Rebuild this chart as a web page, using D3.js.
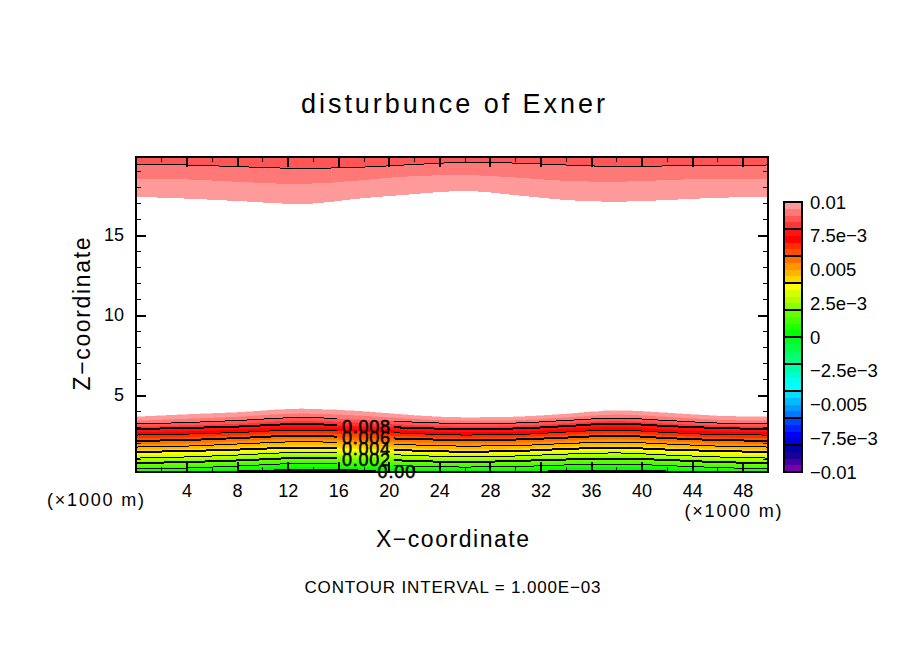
<!DOCTYPE html>
<html>
<head>
<meta charset="utf-8">
<title>disturbance of Exner</title>
<script src="https://cdnjs.cloudflare.com/ajax/libs/d3/7.8.5/d3.min.js"></script>
<style>
  html, body { margin: 0; padding: 0; background: #fff; }
  svg { display: block; }
  text { font-family: "Liberation Sans", sans-serif; fill: #000; }
  .axis text { font-size: 18px; }
  .axis path.domain { display: none; }
  .axis line { stroke: #000; shape-rendering: crispEdges; }
</style>
</head>
<body>
<div id="chart"></div>
<script>
// X positions (km) where the contour heights were read
var xKm = [0, 4, 8, 13, 18, 22, 26, 30, 34, 38, 42, 46, 50];

// contour levels of the lower layer, 0 to 0.01 every 0.0005 (height in km at each xKm)
var level0000 = [.06, .16, .22, .31, .28, .19, .13, .16, .25, .28, .22, .13, .06];
var level0005 = [.22, .30, .39, .52, .47, .38, .32, .35, .44, .49, .41, .30, .22];
var level0010 = [.38, .44, .56, .72, .66, .56, .50, .53, .63, .69, .59, .47, .38];
var level0015 = [.57, .63, .74, .89, .83, .72, .66, .71, .80, .86, .77, .64, .57];
var level0020 = [.75, .81, .91, 1.06, 1.00, .88, .81, .88, .97, 1.03, .94, .81, .75];
var level0025 = [.91, .97, 1.08, 1.24, 1.17, 1.05, .98, 1.04, 1.14, 1.21, 1.10, .97, .91];
var level0030 = [1.06, 1.13, 1.25, 1.41, 1.34, 1.22, 1.14, 1.19, 1.31, 1.38, 1.25, 1.13, 1.06];
var level0035 = [1.25, 1.31, 1.42, 1.56, 1.50, 1.38, 1.30, 1.35, 1.47, 1.55, 1.42, 1.31, 1.25];
var level0040 = [1.44, 1.50, 1.59, 1.71, 1.66, 1.53, 1.46, 1.50, 1.63, 1.71, 1.59, 1.50, 1.44];
var level0045 = [1.59, 1.66, 1.77, 1.90, 1.83, 1.70, 1.63, 1.67, 1.80, 1.89, 1.77, 1.66, 1.59];
var level0050 = [1.75, 1.81, 1.94, 2.08, 2.00, 1.88, 1.81, 1.84, 1.97, 2.06, 1.94, 1.81, 1.75];
var level0055 = [1.94, 2.00, 2.13, 2.27, 2.17, 2.06, 2.00, 2.03, 2.16, 2.26, 2.13, 2.00, 1.94];
var level0060 = [2.14, 2.19, 2.31, 2.46, 2.34, 2.25, 2.19, 2.22, 2.34, 2.46, 2.31, 2.19, 2.14];
var level0065 = [2.32, 2.38, 2.49, 2.64, 2.53, 2.42, 2.34, 2.38, 2.52, 2.64, 2.49, 2.36, 2.32];
var level0070 = [2.50, 2.56, 2.66, 2.81, 2.72, 2.59, 2.50, 2.53, 2.69, 2.81, 2.66, 2.53, 2.50];
var level0075 = [2.69, 2.75, 2.85, 3.00, 2.89, 2.77, 2.69, 2.72, 2.88, 3.02, 2.86, 2.74, 2.69];
var level0080 = [2.88, 2.94, 3.03, 3.19, 3.06, 2.94, 2.88, 2.91, 3.06, 3.22, 3.06, 2.94, 2.88];
var level0085 = [3.03, 3.11, 3.22, 3.39, 3.27, 3.13, 3.05, 3.08, 3.24, 3.39, 3.24, 3.10, 3.03];
var level0090 = [3.19, 3.28, 3.41, 3.59, 3.47, 3.31, 3.22, 3.25, 3.41, 3.56, 3.41, 3.25, 3.19];
var level0095 = [3.41, 3.53, 3.66, 3.86, 3.72, 3.52, 3.41, 3.44, 3.61, 3.80, 3.65, 3.47, 3.41];
var level0100 = [3.63, 3.78, 3.91, 4.13, 3.97, 3.72, 3.59, 3.63, 3.81, 4.03, 3.88, 3.69, 3.63];

// the upper layer, values fall off again above the white region
var upper0100 = [17.39, 17.28, 17.13, 16.94, 17.31, 17.56, 17.77, 17.50, 17.19, 17.08, 17.19, 17.33, 17.39];
var upper0095 = [18.52, 18.48, 18.33, 18.19, 18.44, 18.69, 18.75, 18.60, 18.39, 18.33, 18.44, 18.52, 18.52];
var upper0090 = [19.42, 19.38, 19.28, 19.17, 19.25, 19.41, 19.54, 19.50, 19.38, 19.29, 19.32, 19.36, 19.38];

// colour scale, top to bottom
var shadeColors = [
  "#ff9a9a", "#ff7878", "#ff5555", "#ff3535",
  "#ff1414", "#ff0000", "#ff2c00", "#ff5000",
  "#ff7000", "#ff9500", "#ffb500", "#ffd500",
  "#ffff00", "#d4ff00", "#b0ff00", "#88ff00",
  "#66ff00", "#44ff00", "#22ff00", "#00ff00",
  "#00ff22", "#00ff44", "#00ff66", "#00ff88",
  "#00ffaa", "#00ffcc", "#00ffee", "#00ffff",
  "#00ddff", "#00bbff", "#0099ff", "#0077ff",
  "#0044ff", "#0022ff", "#0000ff", "#0000dd",
  "#0000aa", "#1a0099", "#4400a0", "#7700aa"
];
var colorbarTicks = [0.01, 0.0075, 0.005, 0.0025, 0, -0.0025, -0.005, -0.0075, -0.01];
var colorbarLabels = ["0.01", "7.5e\u22123", "0.005", "2.5e\u22123", "0", "\u22122.5e\u22123", "\u22120.005", "\u22127.5e\u22123", "\u22120.01"];
var colorbarDividers = [0.008, 0.006, 0.004, 0.002, 0, -0.002, -0.004, -0.006, -0.008];

var xMajor = [4, 8, 12, 16, 20, 24, 28, 32, 36, 40, 44, 48];
var xMinor = [2, 6, 10, 14, 18, 22, 26, 30, 34, 38, 42, 46, 50];
var zMajor = [5, 10, 15];
var zMinor = [1, 2, 3, 4, 6, 7, 8, 9, 11, 12, 13, 14, 16, 17, 18, 19];

var contourNames = ["0.002", "0.004", "0.006", "0.008"];

var svgWidth = 904;
var svgHeight = 654;

var svg = d3.select("#chart")
  .append("svg")
  .attr("width", svgWidth)
  .attr("height", svgHeight);

var xScale = d3.scaleLinear().domain([0, 50]).range([136, 768]);
var zScale = d3.scaleLinear().domain([0.19, 19.88]).range([472, 157]);
var barScale = d3.scaleLinear().domain([-0.01, 0.01]).range([472, 202]);

// clip for the plot, and for the contours with the gap for their labels
var defs = svg.append("defs");
defs.append("clipPath").attr("id", "plotClip").append("rect")
  .attr("x", xScale(0)).attr("y", zScale(19.88))
  .attr("width", xScale(50) - xScale(0)).attr("height", zScale(0.19) - zScale(19.88));

function gapClip(id, gapFrom, gapTo) {
  var c = defs.append("clipPath").attr("id", id);
  [[0, gapFrom], [gapTo, 50]].forEach(function(s) {
    c.append("rect")
      .attr("x", xScale(s[0])).attr("y", zScale(19.88))
      .attr("width", xScale(s[1]) - xScale(s[0])).attr("height", zScale(0.19) - zScale(19.88));
  });
}
gapClip("labelGap", 15.9, 20.4);
gapClip("zeroGap", 19, 22.3);

var curve = d3.curveMonotoneX;

var lowerLevels = [level0000, level0005, level0010, level0015, level0020, level0025, level0030,
  level0035, level0040, level0045, level0050, level0055, level0060, level0065, level0070,
  level0075, level0080, level0085, level0090, level0095, level0100];

var plot = svg.append("g").attr("clip-path", "url(#plotClip)");

function band(lower, upper) {
  return d3.area().curve(curve)
    .x(function(d, i) { return xScale(xKm[i]); })
    .y0(function(d, i) { return zScale(lower[i]); })
    .y1(function(d, i) { return zScale(upper[i]); })(xKm);
}

// shade index 19 is the band just above 0, index 0 the band just under 0.01
plot.append("path")
  .attr("d", d3.area().curve(curve)
    .x(function(d, i) { return xScale(xKm[i]); })
    .y0(zScale(0.19))
    .y1(function(d, i) { return zScale(level0000[i]); })(xKm))
  .attr("fill", shadeColors[20]);

d3.range(20).forEach(function(i) {
  plot.append("path")
    .attr("d", band(lowerLevels[i], lowerLevels[i + 1]))
    .attr("fill", shadeColors[19 - i])
    .attr("stroke", shadeColors[19 - i])
    .attr("stroke-width", 0.5)
    .attr("shape-rendering", "crispEdges");
});

// upper layer
plot.append("path").attr("d", band(upper0100, upper0095)).attr("fill", shadeColors[0]).attr("shape-rendering", "crispEdges");
plot.append("path").attr("d", band(upper0095, upper0090)).attr("fill", shadeColors[1]).attr("shape-rendering", "crispEdges");
plot.append("path")
  .attr("d", d3.area().curve(curve)
    .x(function(d, i) { return xScale(xKm[i]); })
    .y0(function(d, i) { return zScale(upper0090[i]); })
    .y1(zScale(19.88))(xKm))
  .attr("fill", shadeColors[2])
  .attr("shape-rendering", "crispEdges");

// contour lines, even thousandths are the heavy ones
var contourLine = d3.line().curve(curve)
  .x(function(d, i) { return xScale(xKm[i]); })
  .y(function(d) { return zScale(d); });

var clipHolder = svg.append("g").attr("clip-path", "url(#plotClip)");
d3.range(0, 21, 2).forEach(function(i) {
  if (i == 20) return; // 0.01 has no line drawn
  clipHolder.append("g")
    .attr("clip-path", i == 0 ? "url(#zeroGap)" : "url(#labelGap)")
    .append("path")
    .attr("d", contourLine(lowerLevels[i]))
    .attr("fill", "none")
    .attr("stroke", "#000")
    .attr("stroke-width", i % 4 == 0 ? 2 : 1)
    .attr("shape-rendering", "crispEdges");
});
clipHolder.append("path")
  .attr("d", contourLine(upper0090))
  .attr("fill", "none")
  .attr("stroke", "#000")
  .attr("stroke-width", 1)
  .attr("shape-rendering", "crispEdges");

// contour labels
var labelRows = [level0020, level0040, level0060, level0080];
contourNames.forEach(function(name, i) {
  svg.append("text")
    .attr("x", xScale(18.2))
    .attr("y", zScale(labelRows[i][4]))
    .attr("dy", "0.36em")
    .attr("text-anchor", "middle")
    .attr("textLength", 48)
    .style("font-size", "18px")
    .style("stroke", "#000")
    .style("stroke-width", 0.5)
    .text(name);
});
svg.append("text")
  .attr("x", xScale(20.6))
  .attr("y", zScale(level0000[4]))
  .attr("dy", "0.42em")
  .attr("text-anchor", "middle")
  .attr("textLength", 38)
  .style("font-size", "18px")
  .style("stroke", "#000")
  .style("stroke-width", 0.5)
  .text("0.00");

// axes, ticks point into the plot
function tickAxis(axis, values, size, width, labels, transform) {
  var g = svg.append("g")
    .attr("class", "axis")
    .attr("transform", transform)
    .call(axis.tickValues(values).tickSize(-size).tickPadding(labels ? 12 : 0)
      .tickFormat(labels ? d3.format("d") : ""));
  g.selectAll("line").attr("stroke-width", width);
  return g;
}
var bottomT = "translate(0," + zScale(0.19) + ")";
var topT = "translate(0," + zScale(19.88) + ")";
var leftT = "translate(" + xScale(0) + ",0)";
var rightT = "translate(" + xScale(50) + ",0)";

tickAxis(d3.axisBottom(xScale), xMajor, 10, 2, true, bottomT);
tickAxis(d3.axisBottom(xScale), xMinor, 5, 1, false, bottomT);
tickAxis(d3.axisTop(xScale), xMajor, 10, 2, false, topT);
tickAxis(d3.axisTop(xScale), xMinor, 5, 1, false, topT);
tickAxis(d3.axisLeft(zScale), zMajor, 10, 2, true, leftT);
tickAxis(d3.axisLeft(zScale), zMinor, 5, 1, false, leftT);
tickAxis(d3.axisRight(zScale), zMajor, 10, 2, false, rightT);
tickAxis(d3.axisRight(zScale), zMinor, 5, 1, false, rightT);

svg.append("rect")
  .attr("x", xScale(0)).attr("y", zScale(19.88))
  .attr("width", xScale(50) - xScale(0)).attr("height", zScale(0.19) - zScale(19.88))
  .attr("fill", "none").attr("stroke", "#000").attr("stroke-width", 2)
  .attr("shape-rendering", "crispEdges");

// colorbar
var barX = 784;
var barW = 18;
shadeColors.forEach(function(c, i) {
  var hi = 0.01 - i * 0.0005;
  svg.append("rect")
    .attr("x", barX).attr("width", barW)
    .attr("y", barScale(hi))
    .attr("height", barScale(hi - 0.0005) - barScale(hi))
    .attr("fill", c)
    .attr("shape-rendering", "crispEdges");
});
colorbarDividers.forEach(function(v) {
  svg.append("line")
    .attr("x1", barX).attr("x2", barX + barW)
    .attr("y1", barScale(v)).attr("y2", barScale(v))
    .attr("stroke", "#000").attr("stroke-width", 2)
    .attr("shape-rendering", "crispEdges");
});
svg.append("rect")
  .attr("x", barX).attr("y", barScale(0.01))
  .attr("width", barW).attr("height", barScale(-0.01) - barScale(0.01))
  .attr("fill", "none").attr("stroke", "#000").attr("stroke-width", 2)
  .attr("shape-rendering", "crispEdges");
colorbarTicks.forEach(function(v, i) {
  svg.append("text")
    .attr("x", 810)
    .attr("y", barScale(v))
    .attr("dy", "0.36em")
    .style("font-size", "18.5px")
    .text(colorbarLabels[i]);
});

// titles
function label(x, y, size, len, str, rotate) {
  var t = svg.append("text")
    .attr("text-anchor", "middle")
    .attr("textLength", len)
    .style("font-size", size + "px")
    .text(str);
  if (rotate) t.attr("transform", "translate(" + x + "," + y + ") rotate(-90)");
  else t.attr("x", x).attr("y", y);
}
label(453, 113, 27, 304, "disturbunce of Exner");
label(90, 314, 23, 153, "Z\u2212coordinate", true);
label(452.5, 547, 23, 153, "X\u2212coordinate");
label(95.5, 506, 18, 97, "(\u00d71000 m)");
label(733, 517, 18, 97, "(\u00d71000 m)");
label(452.5, 593, 17, 296, "CONTOUR INTERVAL = 1.000E\u221203");
</script>
</body>
</html>
